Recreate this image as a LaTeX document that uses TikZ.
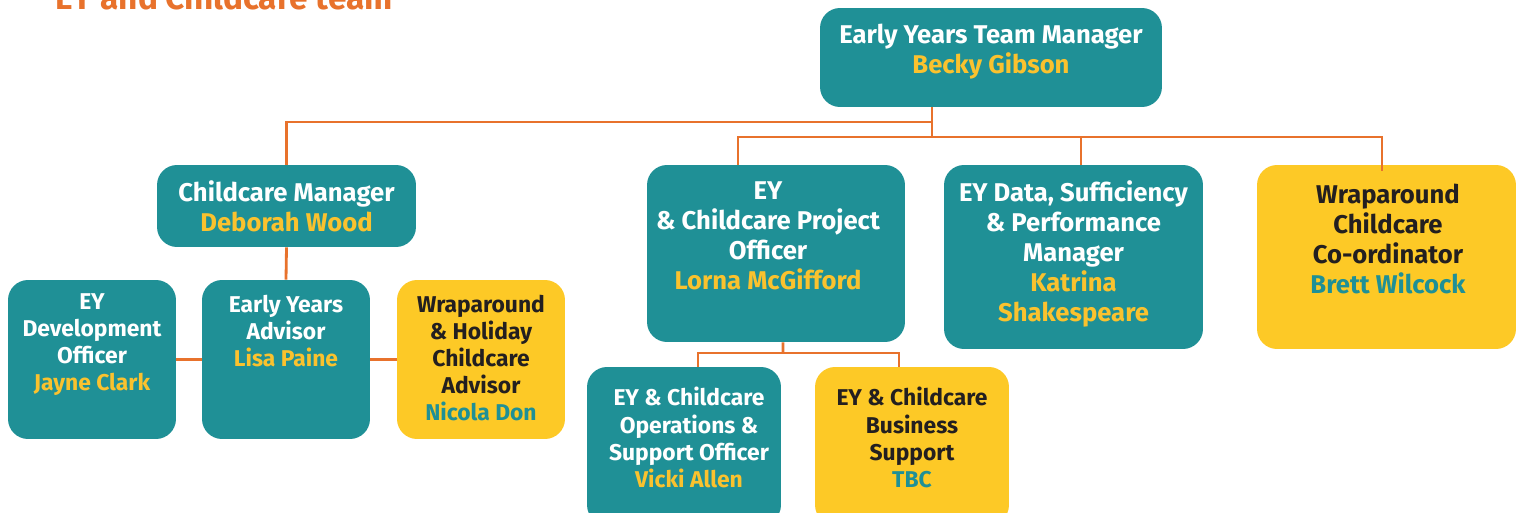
\documentclass[tikz,border=0pt]{standalone}
\usepackage{fontspec}
\setmainfont{Fira Sans}
\usetikzlibrary{positioning}
\definecolor{eyteal}{HTML}{1F9096}
\definecolor{eyyellow}{HTML}{FDC926}
\definecolor{eyorange}{HTML}{E8722C}
\definecolor{eygold}{HTML}{FAC22E}
\definecolor{eydark}{HTML}{231F20}

\begin{document}
\begin{tikzpicture}[x=0.02cm, y=-0.02cm,
  tealbox/.style={fill=eyteal, rounded corners=0.4cm, inner sep=0},
  goldbox/.style={fill=eyyellow, rounded corners=0.4cm, inner sep=0},
  head/.style={font=\bfseries\fontsize{14.6}{17}\selectfont, align=center, inner sep=0},
  sub/.style={font=\bfseries\fontsize{13}{15.4}\selectfont, align=center, inner sep=0},
  link/.style={draw=eyorange, line width=1.6pt}]
  \useasboundingbox (0,0) rectangle (1516,513);
  \clip (0,0) rectangle (1516,513);

  % title
  \node[anchor=base west, inner sep=0, text=eyorange, font=\bfseries\fontsize{19}{22}\selectfont] (title) at (55,10) {EY and Childcare team};

  % boxes
  \node[tealbox, minimum width=6.84cm, minimum height=1.98cm] (mgr) at (991,57.5) {};
  \node[tealbox, minimum width=5.18cm, minimum height=1.64cm] (ccm) at (286.5,206) {};
  \node[tealbox, minimum width=3.36cm, minimum height=3.18cm] (dev) at (92,359.5) {};
  \node[tealbox, minimum width=3.36cm, minimum height=3.18cm] (adv) at (286,359.5) {};
  \node[goldbox, minimum width=3.36cm, minimum height=3.18cm] (wrap) at (481,359.5) {};
  \node[tealbox, minimum width=5.16cm, minimum height=3.54cm] (proj) at (776,253.5) {};
  \node[tealbox, minimum width=5.18cm, minimum height=3.68cm] (data) at (1073.5,257) {};
  \node[goldbox, minimum width=5.18cm, minimum height=3.68cm] (coord) at (1386.5,257) {};
  \node[tealbox, minimum width=3.88cm, minimum height=3.16cm] (ops) at (684,446) {};
  \node[goldbox, minimum width=3.88cm, minimum height=3.16cm] (bus) at (912,446) {};

  % texts
  \node[head, text=white] (mgr-t) at (991,52) {Early Years Team Manager\\\textcolor{eygold}{Becky Gibson}};
  \node[head, text=white] (ccm-t) at (286.5,206) {Childcare Manager\\\textcolor{eygold}{Deborah Wood}};
  \node[sub, text=white] (dev-t) at (92,344.5) {EY\\Development\\Officer\\\textcolor{eygold}{Jayne Clark}};
  \node[sub, text=white] (adv-t) at (286,331) {Early Years\\Advisor\\\textcolor{eygold}{Lisa Paine}};
  \node[sub, text=eydark] (wrap-t) at (481,358) {Wraparound\\\& Holiday\\Childcare\\Advisor\\\textcolor{eyteal}{Nicola Don}};
  \node[head, text=white] (proj-t) at (768,236) {EY\\\& Childcare Project\\Officer\\\textcolor{eygold}{Lorna McGifford}};
  \node[head, text=white] (data-t) at (1073.5,254) {EY Data, Sufficiency\\\& Performance\\Manager\\\textcolor{eygold}{Katrina}\\\textcolor{eygold}{Shakespeare}};
  \node[head, text=eydark] (coord-t) at (1388,239) {Wraparound\\Childcare\\Co-ordinator\\\textcolor{eyteal}{Brett Wilcock}};
  \node[sub, text=white] (ops-t) at (689,437.5) {EY \& Childcare\\Operations \&\\Support Officer\\\textcolor{eygold}{Vicki Allen}};
  \node[sub, text=eydark] (bus-t) at (912,437.5) {EY \& Childcare\\Business\\Support\\\textcolor{eyteal}{TBC}};

  % connectors
  \coordinate (hub1) at (932,122);
  \coordinate (hub2) at (932,137);
  \coordinate (hub3) at (783,353);
  \draw[link] (mgr.south -| hub1) -- (hub2);
  \draw[link] (hub1) -| (ccm.north);
  \draw[link] ([xshift=-0.76cm]proj.north) |- (hub2) -| ([xshift=0.15cm]data.north);
  \draw[link] (hub2) -| ([xshift=-0.09cm,yshift=-0.12cm]coord.north);
  \draw[link] (ccm.south) -- (adv.north);
  \draw[link] (dev.east) -- (adv.west);
  \draw[link] (adv.east) -- (wrap.west);
  \draw[link] ([xshift=0.14cm]proj.south) -- (hub3);
  \draw[link] ([xshift=0.28cm]ops.north) |- (hub3) -| ([xshift=-0.26cm]bus.north);
\end{tikzpicture}
\end{document}
